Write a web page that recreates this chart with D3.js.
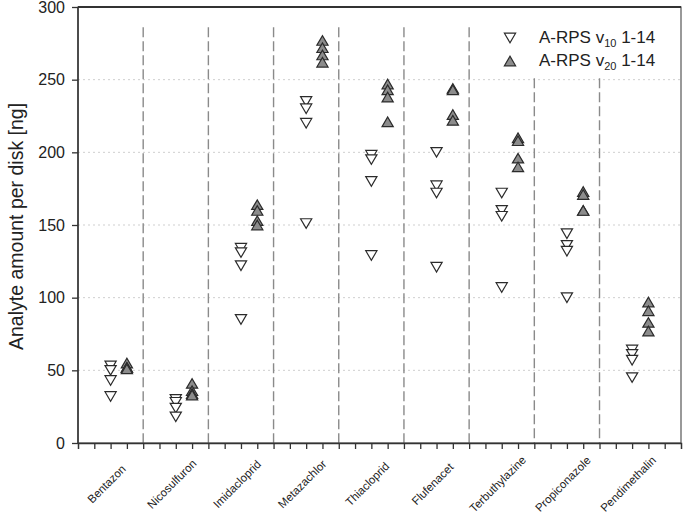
<!DOCTYPE html>
<html>
<head>
<meta charset="utf-8">
<script src="https://cdn.jsdelivr.net/npm/d3@7"></script>
<style>
    body { margin: 0; background: #fff; }
    text { font-family: "Liberation Sans", Arial, sans-serif; fill: #222; }
</style>
</head>
<body>
<div id="chart"></div>
<script>

var analytes = ['Bentazon', 'Nicosulfuron', 'Imidacloprid', 'Metazachlor', 'Thiacloprid',
    'Flufenacet', 'Terbuthylazine', 'Propiconazole', 'Pendimethalin'];

// A-RPS v10 1-14 (open, down triangles)
var v10 = [
    [53, 50, 43, 32],
    [30, 28, 24, 18],
    [134, 131, 122, 85],
    [235, 230, 220, 151],
    [198, 195, 180, 129],
    [200, 177, 172, 121],
    [172, 160, 156, 107],
    [144, 136, 132, 100],
    [64, 61, 57, 45]
];

// A-RPS v20 1-14 (filled, up triangles)
var v20 = [
    [55, 52, 52, 51],
    [41, 36, 34, 33],
    [164, 160, 153, 150],
    [277, 272, 267, 262],
    [247, 243, 238, 221],
    [244, 243, 226, 222],
    [210, 208, 196, 190],
    [173, 171, 160, 160],
    [97, 91, 83, 77]
];

var yTicks = [0, 50, 100, 150, 200, 250, 300];
var yGrid = [50, 100, 150, 200, 250];

var width = 685,
    height = 514,
    margin = { left: 78, top: 7, right: 4, bottom: 71 };

var x = d3.scaleLinear()
    .domain([0, 37])
    .range([margin.left, width - margin.right]);

var y = d3.scaleLinear()
    .domain([0, 300])
    .range([height - margin.bottom, margin.top]);

var svg = d3.select('#chart').append('svg')
    .attr('width', width)
    .attr('height', height);

// grid
svg.append('g').selectAll('line')
    .data(yGrid)
    .enter().append('line')
    .attr('x1', x(0))
    .attr('x2', x(37))
    .attr('y1', function(d) { return y(d); })
    .attr('y2', function(d) { return y(d); })
    .attr('stroke', '#cfcfcf')
    .attr('stroke-width', 1)
    .attr('stroke-dasharray', '2,3');

// category separators
var seps = d3.range(1, analytes.length);
svg.append('g').selectAll('line')
    .data(seps)
    .enter().append('line')
    .attr('x1', function(d) { return x(d * 4); })
    .attr('x2', function(d) { return x(d * 4); })
    .attr('y1', function(d) { return d >= 7 ? y(251) : y(286); })
    .attr('y2', y(0))
    .attr('stroke', '#8a8a8a')
    .attr('stroke-width', 1.4)
    .attr('stroke-dasharray', '10,4');

// frame
svg.append('rect')
    .attr('x', x(0))
    .attr('y', y(300))
    .attr('width', x(37) - x(0))
    .attr('height', y(0) - y(300))
    .attr('fill', 'none')
    .attr('stroke', '#555')
    .attr('stroke-width', 1.2);
svg.append('line')
    .attr('x1', x(0)).attr('x2', x(37))
    .attr('y1', y(300)).attr('y2', y(300))
    .attr('stroke', '#333').attr('stroke-width', 2);
svg.append('line')
    .attr('x1', x(0)).attr('x2', x(0))
    .attr('y1', y(300)).attr('y2', y(0))
    .attr('stroke', '#333').attr('stroke-width', 1.5);

// y axis
var yAxis = svg.append('g')
    .attr('transform', 'translate(' + x(0) + ',0)')
    .call(d3.axisLeft(y).tickValues(yTicks).tickSize(6).tickPadding(7));
yAxis.select('.domain').remove();
yAxis.selectAll('line').attr('stroke', '#333').attr('stroke-width', 1.3);
yAxis.selectAll('text')
    .style('font-family', '"Liberation Sans", Arial, sans-serif')
    .style('font-size', '16px')
    .attr('fill', '#222');

// x axis ticks
var xAxis = svg.append('g')
    .attr('transform', 'translate(0,' + y(0) + ')')
    .call(d3.axisBottom(x).tickValues(d3.range(1, 37)).tickSize(6).tickFormat(''));
xAxis.select('.domain').attr('stroke', '#333').attr('stroke-width', 1.5);
xAxis.selectAll('line').attr('stroke', '#333').attr('stroke-width', 1.3);

svg.append('g').selectAll('text')
    .data(analytes)
    .enter().append('text')
    .attr('transform', function(d, i) {
        return 'translate(' + (x(i * 4 + 2) - 4) + ',484) rotate(-45)';
    })
    .attr('text-anchor', 'middle')
    .attr('dy', '0.35em')
    .style('font-size', '11.5px')
    .text(function(d) { return d; });

// y title
svg.append('text')
    .attr('transform', 'translate(23,' + y(149) + ') rotate(-90)')
    .attr('text-anchor', 'middle')
    .style('font-size', '19.5px')
    .text('Analyte amount per disk [ng]');

function triangle(down) {
    var w = 5.6, h = 4.8;
    return down
        ? 'M' + (-w) + ',' + (-h) + 'L' + w + ',' + (-h) + 'L0,' + h + 'Z'
        : 'M' + (-w) + ',' + h + 'L' + w + ',' + h + 'L0,' + (-h) + 'Z';
}

function points(data, offset) {
    var out = [];
    data.forEach(function(vals, i) {
        vals.forEach(function(v) { out.push({ x: i * 4 + offset, y: v }); });
    });
    return out;
}

svg.append('g').selectAll('path')
    .data(points(v10, 2))
    .enter().append('path')
    .attr('d', triangle(true))
    .attr('transform', function(d) { return 'translate(' + x(d.x) + ',' + y(d.y) + ')'; })
    .attr('fill', '#fff')
    .attr('stroke', '#2b2b2b')
    .attr('stroke-width', 1.2);

svg.append('g').selectAll('path')
    .data(points(v20, 3))
    .enter().append('path')
    .attr('d', triangle(false))
    .attr('transform', function(d) { return 'translate(' + x(d.x) + ',' + y(d.y) + ')'; })
    .attr('fill', '#8c8c8c')
    .attr('stroke', '#2b2b2b')
    .attr('stroke-width', 1.2);

// legend
var legend = [
    { down: true, fill: '#fff', sub: '10', y: 38 },
    { down: false, fill: '#8c8c8c', sub: '20', y: 61 }
];
var lg = svg.append('g').selectAll('g')
    .data(legend)
    .enter().append('g')
    .attr('transform', function(d) { return 'translate(0,' + d.y + ')'; });
lg.append('path')
    .attr('d', function(d) { return triangle(d.down); })
    .attr('transform', 'translate(510,0)')
    .attr('fill', function(d) { return d.fill; })
    .attr('stroke', '#2b2b2b')
    .attr('stroke-width', 1.2);
var lt = lg.append('text')
    .attr('x', 539)
    .attr('y', 5)
    .style('font-size', '17px');
lt.append('tspan').text('A-RPS v');
lt.append('tspan')
    .attr('dy', 4)
    .style('font-size', '11px')
    .text(function(d) { return d.sub; });
lt.append('tspan')
    .attr('dy', -4)
    .text(' 1-14');

</script>
</body>
</html>
